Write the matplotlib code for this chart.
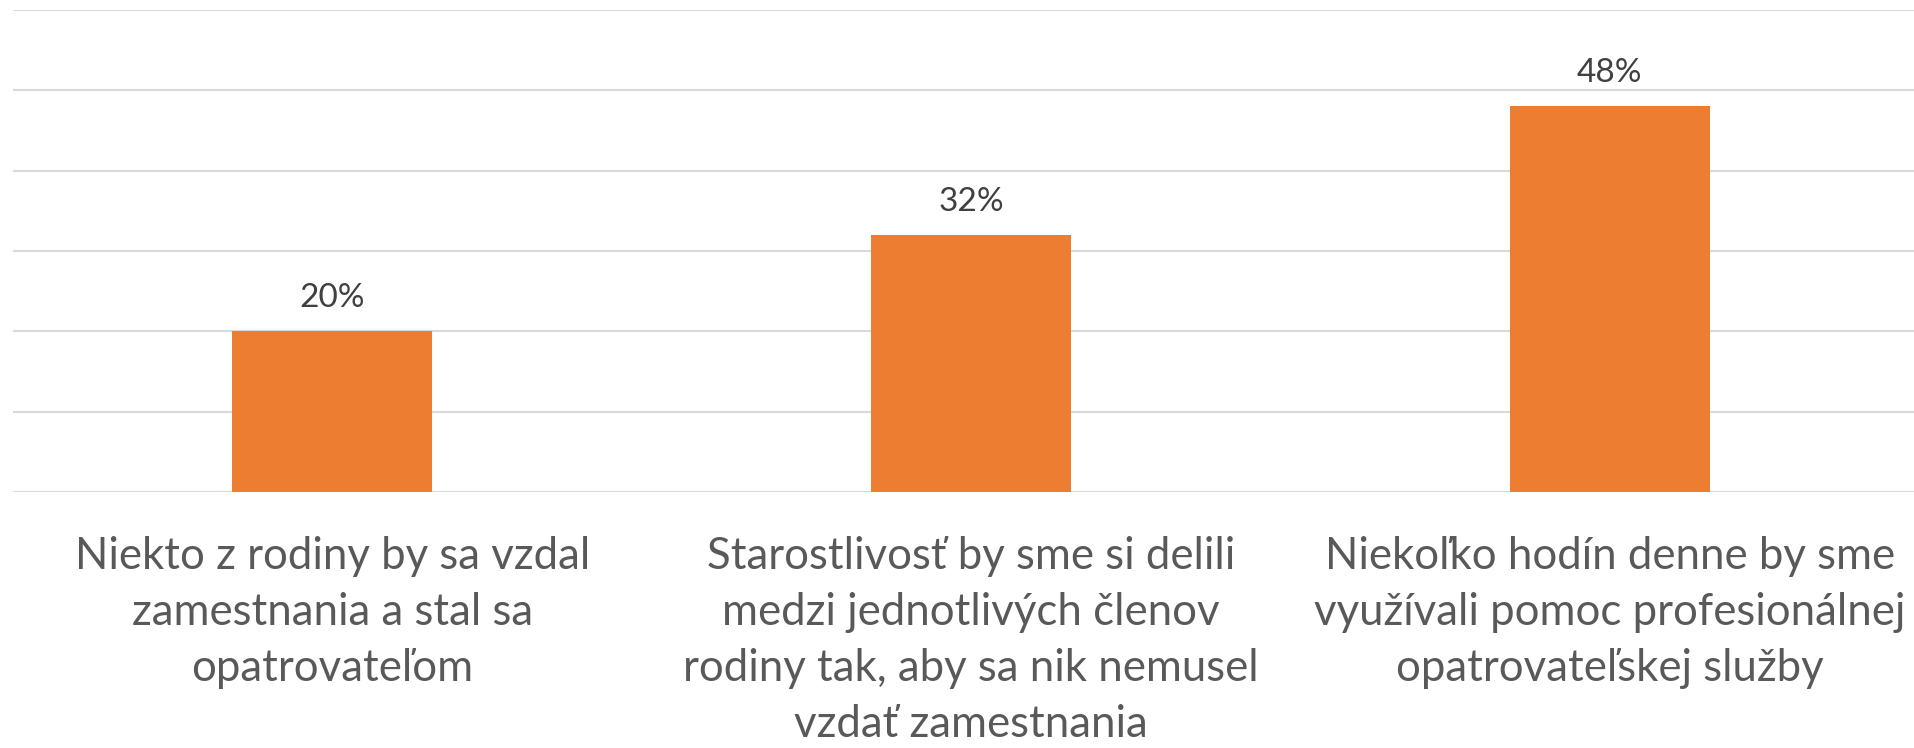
import matplotlib.pyplot as plt
import matplotlib.transforms as mtransforms

categories = [
    "Niekto z rodiny by sa vzdal\nzamestnania a stal sa\nopatrovateľom",
    "Starostlivosť by sme si delili\nmedzi jednotlivých členov\nrodiny tak, aby sa nik nemusel\nvzdať zamestnania",
    "Niekoľko hodín denne by sme\nvyužívali pomoc profesionálnej\nopatrovateľskej služby",
]
values = [20, 32, 48]
y_ticks = [0, 10, 20, 30, 40, 50, 60]

plt.rcParams['font.family'] = ['Lato', 'DejaVu Sans']

fig = plt.figure(figsize=(19.14, 7.48), dpi=100)
# axes extends slightly past the right edge, as in the original cropped chart
ax = fig.add_axes([13 / 1914, 1 - 492 / 748, 1916 / 1914, 482 / 748])

x = list(range(len(values)))
ax.bar(x, values, width=0.313, color='#ED7D31', zorder=3)

ax.set_xlim(-0.5, len(values) - 0.5)
ax.set_ylim(0, 60)
ax.set_yticks(y_ticks)
ax.grid(axis='y', color='#D9D9D9', linewidth=1.5, zorder=0)
ax.tick_params(left=False, bottom=False, labelleft=False, labelbottom=False)
for s in ax.spines.values():
    s.set_visible(False)

for xi, v in zip(x, values):
    ax.annotate(f'{v}%', (xi, v), xytext=(0, 24), textcoords='offset points',
                ha='center', va='center', fontsize=24, color='#404040')

trans = mtransforms.blended_transform_factory(ax.transData, ax.transAxes)
for xi, lab in zip(x, categories):
    ax.text(xi, -0.092, lab, transform=trans, ha='center', va='top',
            fontsize=31.5, color='#595959', linespacing=1.45)

fig.savefig('out.png', dpi=100)
